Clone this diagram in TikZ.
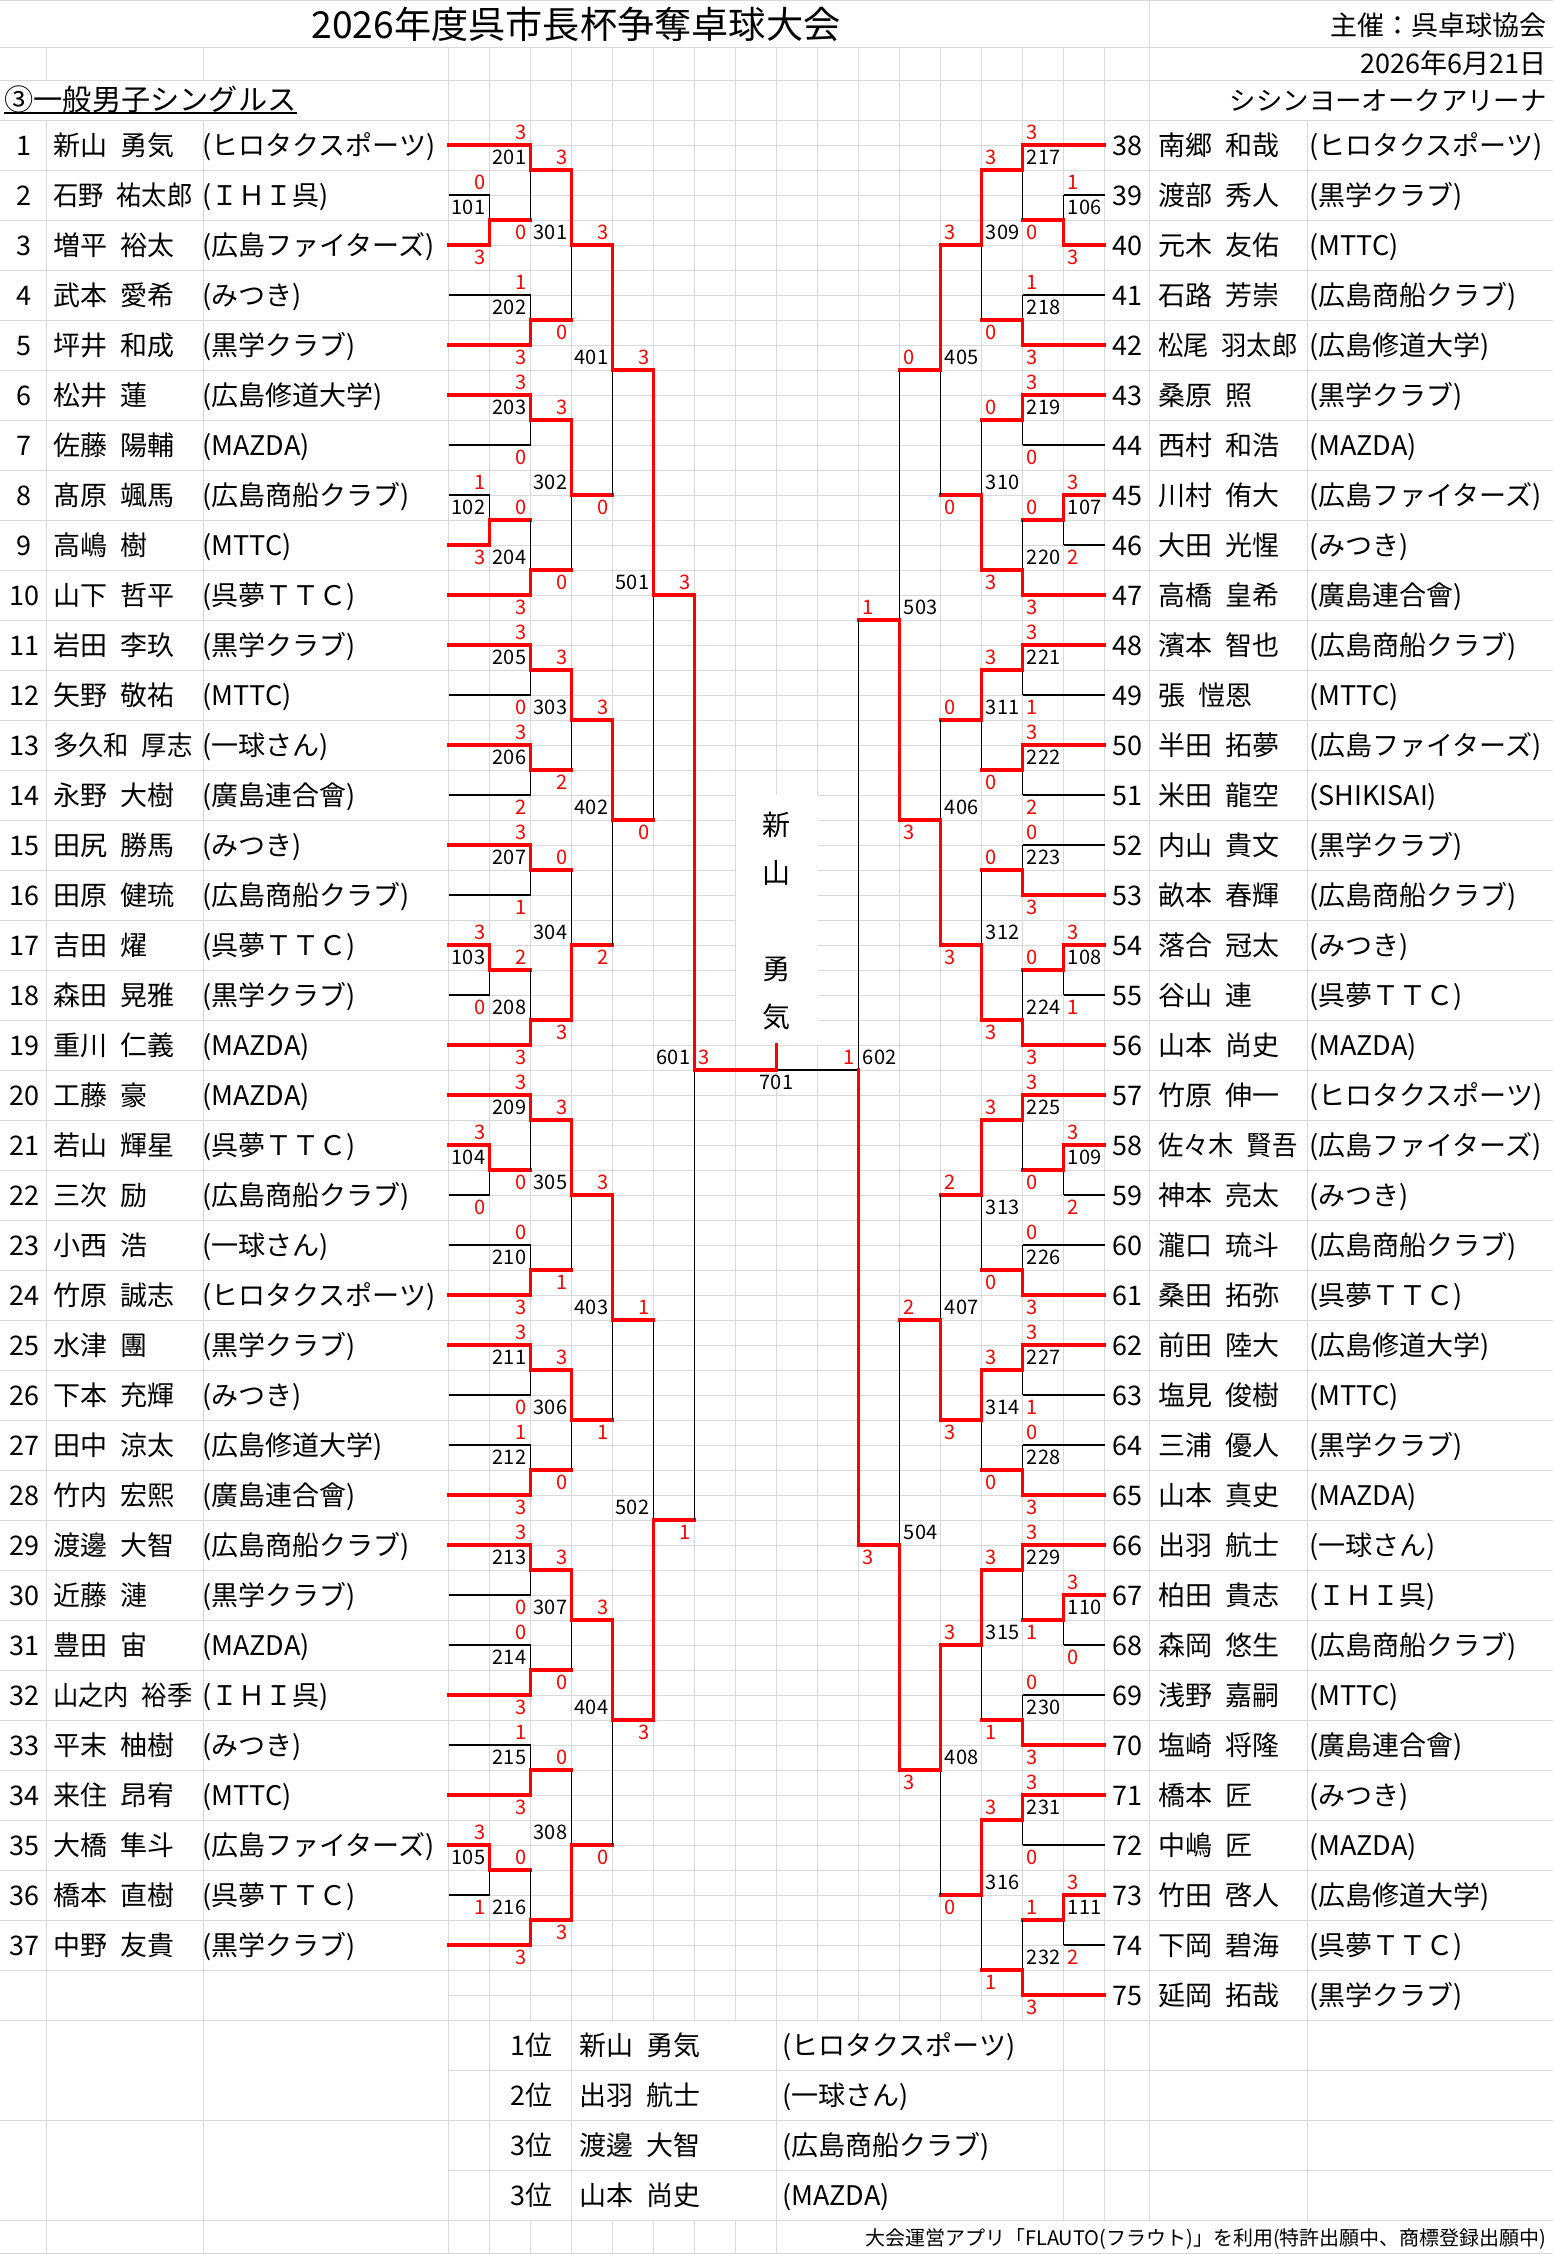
\documentclass[tikz,border=0pt]{standalone}
\usepackage{fontspec}
\usepackage{graphicx}
\setmainfont{Noto Sans CJK JP}

\definecolor{cellgrid}{HTML}{D9D9D9}
\definecolor{scorered}{HTML}{FF0000}

% sizes (1 px of the sheet = 0.5pt)
\newcommand{\fsz}{\fontsize{13.5}{16}\selectfont}
\newcommand{\ssz}{\fontsize{10}{12}\selectfont}

% column x and half-row y of the bracket grid
\newcommand{\cx}[1]{448.5+41*(#1)}
\newcommand{\hy}[1]{120+25*(#1)}

% long names are squeezed into the cell
\newsavebox\namebox
\newcommand{\pname}[2]{\sbox\namebox{#1\hspace{0.5em}#2}%
  \ifdim\wd\namebox>69.5pt\resizebox{69.5pt}{\height}{\usebox\namebox}\else\usebox\namebox\fi}

\tikzset{
  gridline/.style={cellgrid, line width=0.5pt},
  lose/.style={black, line width=0.6pt},
  win/.style={scorered, line width=1.8pt, line cap=rect, line join=miter},
  pnum/.style={inner sep=0pt, anchor=base, font=\fsz},
  ptxt/.style={inner sep=0pt, anchor=base west, font=\fsz},
  scl/.style={scorered, inner sep=0pt, anchor=base east, font=\ssz},
  scr/.style={scorered, inner sep=0pt, anchor=base west, font=\ssz},
  nol/.style={inner sep=0pt, anchor=base east, font=\ssz},
  nor/.style={inner sep=0pt, anchor=base west, font=\ssz},
}

% players: no, family, given, club, first column, line style
\newcommand{\lplayer}[6]{%
  \node[pnum] (n#1) at (24,{105+50*#1}) {#1};
  \node[ptxt] (p#1) at (53,{105+50*#1}) {\pname{#2}{#3}};
  \node[ptxt] (k#1) at (202,{105+50*#1}) {#4};
  \draw[#6] ({\cx{0}},{95+50*#1}) -- ({\cx{#5}},{95+50*#1});
}
\newcommand{\rplayer}[6]{%
  \node[pnum] (n#1) at (1127,{50*#1-1745}) {#1};
  \node[ptxt] (p#1) at (1158,{50*#1-1745}) {\pname{#2}{#3}};
  \node[ptxt] (k#1) at (1309,{50*#1-1745}) {#4};
  \draw[#6] ({\cx{16}},{50*#1-1755}) -- ({\cx{#5}},{50*#1-1755});
}

% matches: column, top, bottom, winner, out (half rows), top score, bottom score, no., label row
\newcommand{\lmatch}[9]{%
  \draw[lose] ({\cx{#1}},{\hy{#2}}) -- ({\cx{#1}},{\hy{#3}});
  \draw[win] ({\cx{#1}},{\hy{#4}}) -- ({\cx{#1}},{\hy{#5}}) -- ({\cx{#1+1}},{\hy{#5}});
  \node[scl] (s#8a) at ({\cx{#1}-4},{\hy{#2-0.5}+7.3}) {#6};
  \node[scl] (s#8b) at ({\cx{#1}-4},{\hy{#3+0.5}+7.3}) {#7};
  \node[nol] (m#8) at ({\cx{#1}-4},{\hy{#9}+7.3}) {#8};
}
\newcommand{\rmatch}[9]{%
  \draw[lose] ({\cx{#1}},{\hy{#2}}) -- ({\cx{#1}},{\hy{#3}});
  \draw[win] ({\cx{#1}},{\hy{#4}}) -- ({\cx{#1}},{\hy{#5}}) -- ({\cx{#1-1}},{\hy{#5}});
  \node[scr] (s#8a) at ({\cx{#1}+4},{\hy{#2-0.5}+7.3}) {#6};
  \node[scr] (s#8b) at ({\cx{#1}+4},{\hy{#3+0.5}+7.3}) {#7};
  \node[nor] (m#8) at ({\cx{#1}+4},{\hy{#9}+7.3}) {#8};
}

\begin{document}
\begin{tikzpicture}[x=0.5pt,y=-0.5pt]
\useasboundingbox (0,0) rectangle (1553,2254);

% sheet grid
\foreach \y in {0.5,47,80,120,2020,2120,2220,2253.5}
  \draw[gridline] (0,\y) -- (1553,\y);
\foreach \y in {2070,2170}
  \draw[gridline] ({\cx{0}},\y) -- (1553,\y);
\foreach \k in {1,...,37}
  \draw[gridline] (0,{120+50*\k}) -- ({\cx{0}},{120+50*\k});
\foreach \k in {1,...,37}
  \draw[gridline] ({\cx{16}},{120+50*\k}) -- (1553,{120+50*\k});
\foreach \k in {1,...,75}
  \draw[gridline] ({\cx{0}},{\hy{\k}}) -- ({\cx{16}},{\hy{\k}});
\foreach \x in {46.5,203} {
  \draw[gridline] (\x,47) -- (\x,80);
  \draw[gridline] (\x,120) -- (\x,2254);
}
\foreach \k in {0,...,16}
  \draw[gridline] ({\cx{\k}},47) -- ({\cx{\k}},2020);
\foreach \k in {0,...,8}
  \draw[gridline] ({\cx{\k}},2220) -- ({\cx{\k}},2254);
\foreach \k in {0,1,3,8,15,16}
  \draw[gridline] ({\cx{\k}},2020) -- ({\cx{\k}},2220);
\draw[gridline] (1149,0) -- (1149,2220);
\draw[gridline] (1307,120) -- (1307,2220);

% header
\node[inner sep=0pt, anchor=base, font=\fontsize{18.6}{22}\selectfont] (title) at (576,38.5) {2026年度呉市長杯争奪卓球大会};
\node[inner sep=0pt, anchor=base east, font=\fsz] (host) at (1547,35) {主催：呉卓球協会};
\node[inner sep=0pt, anchor=base east, font=\fsz] (date) at (1547,73) {2026年6月21日};
\node[inner sep=0pt, anchor=base west, font=\fontsize{14.6}{17}\selectfont] (event) at (4,110) {③一般男子シングルス};
\draw[line width=1.1pt] ([yshift=-1.6pt]event.base west) -- ([yshift=-1.6pt]event.base east);
\node[inner sep=0pt, anchor=base east, font=\fontsize{13.2}{16}\selectfont] (venue) at (1547,110) {シシンヨーオークアリーナ};

% left players
\lplayer{1}{新山}{勇気}{(ヒロタクスポーツ)}{2}{win}
\lplayer{2}{石野}{祐太郎}{(ＩＨＩ呉)}{1}{lose}
\lplayer{3}{増平}{裕太}{(広島ファイターズ)}{1}{win}
\lplayer{4}{武本}{愛希}{(みつき)}{2}{lose}
\lplayer{5}{坪井}{和成}{(黒学クラブ)}{2}{win}
\lplayer{6}{松井}{蓮}{(広島修道大学)}{2}{win}
\lplayer{7}{佐藤}{陽輔}{(MAZDA)}{2}{lose}
\lplayer{8}{髙原}{颯馬}{(広島商船クラブ)}{1}{lose}
\lplayer{9}{高嶋}{樹}{(MTTC)}{1}{win}
\lplayer{10}{山下}{哲平}{(呉夢ＴＴＣ)}{2}{win}
\lplayer{11}{岩田}{李玖}{(黒学クラブ)}{2}{win}
\lplayer{12}{矢野}{敬祐}{(MTTC)}{2}{lose}
\lplayer{13}{多久和}{厚志}{(一球さん)}{2}{win}
\lplayer{14}{永野}{大樹}{(廣島連合會)}{2}{lose}
\lplayer{15}{田尻}{勝馬}{(みつき)}{2}{win}
\lplayer{16}{田原}{健琉}{(広島商船クラブ)}{2}{lose}
\lplayer{17}{吉田}{燿}{(呉夢ＴＴＣ)}{1}{win}
\lplayer{18}{森田}{晃雅}{(黒学クラブ)}{1}{lose}
\lplayer{19}{重川}{仁義}{(MAZDA)}{2}{win}
\lplayer{20}{工藤}{豪}{(MAZDA)}{2}{win}
\lplayer{21}{若山}{輝星}{(呉夢ＴＴＣ)}{1}{win}
\lplayer{22}{三次}{励}{(広島商船クラブ)}{1}{lose}
\lplayer{23}{小西}{浩}{(一球さん)}{2}{lose}
\lplayer{24}{竹原}{誠志}{(ヒロタクスポーツ)}{2}{win}
\lplayer{25}{水津}{團}{(黒学クラブ)}{2}{win}
\lplayer{26}{下本}{充輝}{(みつき)}{2}{lose}
\lplayer{27}{田中}{涼太}{(広島修道大学)}{2}{lose}
\lplayer{28}{竹内}{宏熙}{(廣島連合會)}{2}{win}
\lplayer{29}{渡邊}{大智}{(広島商船クラブ)}{2}{win}
\lplayer{30}{近藤}{漣}{(黒学クラブ)}{2}{lose}
\lplayer{31}{豊田}{宙}{(MAZDA)}{2}{lose}
\lplayer{32}{山之内}{裕季}{(ＩＨＩ呉)}{2}{win}
\lplayer{33}{平末}{柚樹}{(みつき)}{2}{lose}
\lplayer{34}{来住}{昂宥}{(MTTC)}{2}{win}
\lplayer{35}{大橋}{隼斗}{(広島ファイターズ)}{1}{win}
\lplayer{36}{橋本}{直樹}{(呉夢ＴＴＣ)}{1}{lose}
\lplayer{37}{中野}{友貴}{(黒学クラブ)}{2}{win}

% right players
\rplayer{38}{南郷}{和哉}{(ヒロタクスポーツ)}{14}{win}
\rplayer{39}{渡部}{秀人}{(黒学クラブ)}{15}{lose}
\rplayer{40}{元木}{友佑}{(MTTC)}{15}{win}
\rplayer{41}{石路}{芳崇}{(広島商船クラブ)}{14}{lose}
\rplayer{42}{松尾}{羽太郎}{(広島修道大学)}{14}{win}
\rplayer{43}{桑原}{照}{(黒学クラブ)}{14}{win}
\rplayer{44}{西村}{和浩}{(MAZDA)}{14}{lose}
\rplayer{45}{川村}{侑大}{(広島ファイターズ)}{15}{win}
\rplayer{46}{大田}{光惺}{(みつき)}{15}{lose}
\rplayer{47}{高橋}{皇希}{(廣島連合會)}{14}{win}
\rplayer{48}{濱本}{智也}{(広島商船クラブ)}{14}{win}
\rplayer{49}{張}{愷恩}{(MTTC)}{14}{lose}
\rplayer{50}{半田}{拓夢}{(広島ファイターズ)}{14}{win}
\rplayer{51}{米田}{龍空}{(SHIKISAI)}{14}{lose}
\rplayer{52}{内山}{貴文}{(黒学クラブ)}{14}{lose}
\rplayer{53}{畝本}{春輝}{(広島商船クラブ)}{14}{win}
\rplayer{54}{落合}{冠太}{(みつき)}{15}{win}
\rplayer{55}{谷山}{連}{(呉夢ＴＴＣ)}{15}{lose}
\rplayer{56}{山本}{尚史}{(MAZDA)}{14}{win}
\rplayer{57}{竹原}{伸一}{(ヒロタクスポーツ)}{14}{win}
\rplayer{58}{佐々木}{賢吾}{(広島ファイターズ)}{15}{win}
\rplayer{59}{神本}{亮太}{(みつき)}{15}{lose}
\rplayer{60}{瀧口}{琉斗}{(広島商船クラブ)}{14}{lose}
\rplayer{61}{桑田}{拓弥}{(呉夢ＴＴＣ)}{14}{win}
\rplayer{62}{前田}{陸大}{(広島修道大学)}{14}{win}
\rplayer{63}{塩見}{俊樹}{(MTTC)}{14}{lose}
\rplayer{64}{三浦}{優人}{(黒学クラブ)}{14}{lose}
\rplayer{65}{山本}{真史}{(MAZDA)}{14}{win}
\rplayer{66}{出羽}{航士}{(一球さん)}{14}{win}
\rplayer{67}{柏田}{貴志}{(ＩＨＩ呉)}{15}{win}
\rplayer{68}{森岡}{悠生}{(広島商船クラブ)}{15}{lose}
\rplayer{69}{浅野}{嘉嗣}{(MTTC)}{14}{lose}
\rplayer{70}{塩崎}{将隆}{(廣島連合會)}{14}{win}
\rplayer{71}{橋本}{匠}{(みつき)}{14}{win}
\rplayer{72}{中嶋}{匠}{(MAZDA)}{14}{lose}
\rplayer{73}{竹田}{啓人}{(広島修道大学)}{15}{win}
\rplayer{74}{下岡}{碧海}{(呉夢ＴＴＣ)}{15}{lose}
\rplayer{75}{延岡}{拓哉}{(黒学クラブ)}{14}{win}

% left bracket
\lmatch{1}{3}{5}{5}{4}{0}{3}{101}{3.5}
\lmatch{1}{15}{17}{17}{16}{1}{3}{102}{15.5}
\lmatch{1}{33}{35}{33}{34}{3}{0}{103}{33.5}
\lmatch{1}{41}{43}{41}{42}{3}{0}{104}{41.5}
\lmatch{1}{69}{71}{69}{70}{3}{1}{105}{69.5}
\lmatch{2}{1}{4}{1}{2}{3}{0}{201}{1.5}
\lmatch{2}{7}{9}{9}{8}{1}{3}{202}{7.5}
\lmatch{2}{11}{13}{11}{12}{3}{0}{203}{11.5}
\lmatch{2}{16}{19}{19}{18}{0}{3}{204}{17.5}
\lmatch{2}{21}{23}{21}{22}{3}{0}{205}{21.5}
\lmatch{2}{25}{27}{25}{26}{3}{2}{206}{25.5}
\lmatch{2}{29}{31}{29}{30}{3}{1}{207}{29.5}
\lmatch{2}{34}{37}{37}{36}{2}{3}{208}{35.5}
\lmatch{2}{39}{42}{39}{40}{3}{0}{209}{39.5}
\lmatch{2}{45}{47}{47}{46}{0}{3}{210}{45.5}
\lmatch{2}{49}{51}{49}{50}{3}{0}{211}{49.5}
\lmatch{2}{53}{55}{55}{54}{1}{3}{212}{53.5}
\lmatch{2}{57}{59}{57}{58}{3}{0}{213}{57.5}
\lmatch{2}{61}{63}{63}{62}{0}{3}{214}{61.5}
\lmatch{2}{65}{67}{67}{66}{1}{3}{215}{65.5}
\lmatch{2}{70}{73}{73}{72}{0}{3}{216}{71.5}
\lmatch{3}{2}{8}{2}{5}{3}{0}{301}{4.5}
\lmatch{3}{12}{18}{12}{15}{3}{0}{302}{14.5}
\lmatch{3}{22}{26}{22}{24}{3}{2}{303}{23.5}
\lmatch{3}{30}{36}{36}{33}{0}{3}{304}{32.5}
\lmatch{3}{40}{46}{40}{43}{3}{1}{305}{42.5}
\lmatch{3}{50}{54}{50}{52}{3}{0}{306}{51.5}
\lmatch{3}{58}{62}{58}{60}{3}{0}{307}{59.5}
\lmatch{3}{66}{72}{72}{69}{0}{3}{308}{68.5}
\lmatch{4}{5}{15}{5}{10}{3}{0}{401}{9.5}
\lmatch{4}{24}{33}{24}{28}{3}{2}{402}{27.5}
\lmatch{4}{43}{52}{43}{48}{3}{1}{403}{47.5}
\lmatch{4}{60}{69}{60}{64}{3}{0}{404}{63.5}
\lmatch{5}{10}{28}{10}{19}{3}{0}{501}{18.5}
\lmatch{5}{48}{64}{64}{56}{1}{3}{502}{55.5}

% right bracket
\rmatch{15}{3}{5}{5}{4}{1}{3}{106}{3.5}
\rmatch{15}{15}{17}{15}{16}{3}{2}{107}{15.5}
\rmatch{15}{33}{35}{33}{34}{3}{1}{108}{33.5}
\rmatch{15}{41}{43}{41}{42}{3}{2}{109}{41.5}
\rmatch{15}{59}{61}{59}{60}{3}{0}{110}{59.5}
\rmatch{15}{71}{73}{71}{72}{3}{2}{111}{71.5}
\rmatch{14}{1}{4}{1}{2}{3}{0}{217}{1.5}
\rmatch{14}{7}{9}{9}{8}{1}{3}{218}{7.5}
\rmatch{14}{11}{13}{11}{12}{3}{0}{219}{11.5}
\rmatch{14}{16}{19}{19}{18}{0}{3}{220}{17.5}
\rmatch{14}{21}{23}{21}{22}{3}{1}{221}{21.5}
\rmatch{14}{25}{27}{25}{26}{3}{2}{222}{25.5}
\rmatch{14}{29}{31}{31}{30}{0}{3}{223}{29.5}
\rmatch{14}{34}{37}{37}{36}{0}{3}{224}{35.5}
\rmatch{14}{39}{42}{39}{40}{3}{0}{225}{39.5}
\rmatch{14}{45}{47}{47}{46}{0}{3}{226}{45.5}
\rmatch{14}{49}{51}{49}{50}{3}{1}{227}{49.5}
\rmatch{14}{53}{55}{55}{54}{0}{3}{228}{53.5}
\rmatch{14}{57}{60}{57}{58}{3}{1}{229}{57.5}
\rmatch{14}{63}{65}{65}{64}{0}{3}{230}{63.5}
\rmatch{14}{67}{69}{67}{68}{3}{0}{231}{67.5}
\rmatch{14}{72}{75}{75}{74}{1}{3}{232}{73.5}
\rmatch{13}{2}{8}{2}{5}{3}{0}{309}{4.5}
\rmatch{13}{12}{18}{18}{15}{0}{3}{310}{14.5}
\rmatch{13}{22}{26}{22}{24}{3}{0}{311}{23.5}
\rmatch{13}{30}{36}{36}{33}{0}{3}{312}{32.5}
\rmatch{13}{40}{46}{40}{43}{3}{0}{313}{43.5}
\rmatch{13}{50}{54}{50}{52}{3}{0}{314}{51.5}
\rmatch{13}{58}{64}{58}{61}{3}{1}{315}{60.5}
\rmatch{13}{68}{74}{68}{71}{3}{1}{316}{70.5}
\rmatch{12}{5}{15}{5}{10}{3}{0}{405}{9.5}
\rmatch{12}{24}{33}{33}{28}{0}{3}{406}{27.5}
\rmatch{12}{43}{52}{52}{48}{2}{3}{407}{47.5}
\rmatch{12}{61}{71}{61}{66}{3}{0}{408}{65.5}
\rmatch{11}{10}{28}{28}{20}{0}{3}{503}{19.5}
\rmatch{11}{48}{66}{66}{57}{2}{3}{504}{56.5}

% semi-finals and final
\draw[lose] ({\cx{6}},{\hy{19}}) -- ({\cx{6}},{\hy{56}});
\draw[lose] ({\cx{10}},{\hy{20}}) -- ({\cx{10}},{\hy{57}});
\draw[lose] ({\cx{8}},{\hy{38}}) -- ({\cx{10}},{\hy{38}});
\fill[white] ({\cx{7}},{\hy{27}}) rectangle ({\cx{9}},{\hy{37}});
\draw[win] ({\cx{6}},{\hy{19}}) -- ({\cx{6}},{\hy{38}}) -- ({\cx{8}},{\hy{38}}) -- ({\cx{8}},{\hy{37}});
\draw[win] ({\cx{10}},{\hy{57}}) -- ({\cx{10}},{\hy{38}});
\node[scl] (s601a) at ({\cx{6}-4},{\hy{18.5}+7.3}) {3};
\node[scl] (s601b) at ({\cx{6}-4},{\hy{56.5}+7.3}) {1};
\node[nol] (m601) at ({\cx{6}-4},{\hy{37.5}+7.3}) {601};
\node[scr] (s602a) at ({\cx{10}+4},{\hy{19.5}+7.3}) {1};
\node[scr] (s602b) at ({\cx{10}+4},{\hy{57.5}+7.3}) {3};
\node[nor] (m602) at ({\cx{10}+4},{\hy{37.5}+7.3}) {602};
\node[scr] (s701a) at ({\cx{6}+4},{\hy{37.5}+7.3}) {3};
\node[scl] (s701b) at ({\cx{10}-4},{\hy{37.5}+7.3}) {1};
\node[inner sep=0pt, anchor=base, font=\ssz] (m701) at ({\cx{8}},{\hy{38.5}+7.3}) {701};
\node[inner sep=0pt, align=center, font=\fontsize{14}{24}\selectfont] (champ) at ({\cx{8}},921) {新\\山\\[24pt]勇\\気};

% results
\node[ptxt] (r1) at (510,2055) {1位};
\node[ptxt] (r1n) at (579,2055) {\pname{新山}{勇気}};
\node[ptxt] (r1k) at (782,2055) {(ヒロタクスポーツ)};
\node[ptxt] (r2) at (510,2105) {2位};
\node[ptxt] (r2n) at (579,2105) {\pname{出羽}{航士}};
\node[ptxt] (r2k) at (782,2105) {(一球さん)};
\node[ptxt] (r3) at (510,2155) {3位};
\node[ptxt] (r3n) at (579,2155) {\pname{渡邊}{大智}};
\node[ptxt] (r3k) at (782,2155) {(広島商船クラブ)};
\node[ptxt] (r4) at (510,2205) {3位};
\node[ptxt] (r4n) at (579,2205) {\pname{山本}{尚史}};
\node[ptxt] (r4k) at (782,2205) {(MAZDA)};

% footer
\node[inner sep=0pt, anchor=base east, font=\fontsize{10}{12}\selectfont] (app) at (1547,2245) {大会運営アプリ「FLAUTO(フラウト)」を利用(特許出願中、商標登録出願中)};
\end{tikzpicture}
\end{document}
